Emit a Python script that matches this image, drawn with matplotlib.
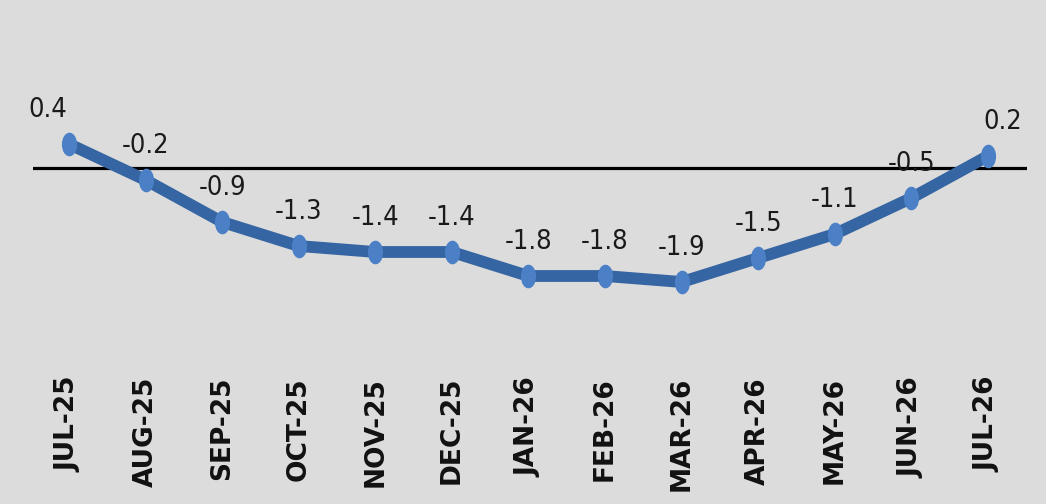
import matplotlib
matplotlib.use("Agg")
import matplotlib.pyplot as plt
from matplotlib.path import Path
import numpy as np

months = ["JUL-25", "AUG-25", "SEP-25", "OCT-25", "NOV-25", "DEC-25", "JAN-26",
          "FEB-26", "MAR-26", "APR-26", "MAY-26", "JUN-26", "JUL-26"]
values = [0.4, -0.2, -0.9, -1.3, -1.4, -1.4, -1.8, -1.8, -1.9, -1.5, -1.1, -0.5, 0.2]
labels = ["0.4", "-0.2", "-0.9", "-1.3", "-1.4", "-1.4", "-1.8", "-1.8", "-1.9",
          "-1.5", "-1.1", "-0.5", "0.2"]

bg = "#dcdcdc"
fig = plt.figure(figsize=(10.46, 5.04), dpi=100, facecolor=bg)
ax = fig.add_axes([33/1046, (504-370)/504, (1027-33)/1046, 370/504])
ax.set_facecolor(bg)

circ = Path.unit_circle()
ell = Path(circ.vertices * np.array([0.62, 1.0]), circ.codes)

x = np.arange(len(months))
ax.axhline(0, color="black", lw=2.3, zorder=1)
ax.plot(x, values, color="#3565a2", lw=8.5, zorder=2, solid_capstyle="round",
        solid_joinstyle="round")
ax.plot(x, values, ls="none", marker=ell, ms=16, mfc="#4b80c6", mec="#4b80c6",
        zorder=3)

offsets = {0: -15, 12: 11}
for i, (v, t) in enumerate(zip(values, labels)):
    ax.annotate(t, (i, v), xytext=(offsets.get(i, 0), 15), textcoords="offset points",
                ha="center", va="bottom", fontsize=19.5, fontstretch="condensed",
                family="DejaVu Sans", color="#1a1a1a", zorder=4)

ax.set_xlim(-0.47, 12.51)
ax.set_ylim(-(370-168)/60, 168/60)
ax.set_xticks(x)
ax.set_xticklabels(months, rotation=90, fontsize=19, fontweight="bold",
                   family="DejaVu Sans", color="#111111")
ax.tick_params(axis="x", length=0, pad=5)
ax.set_yticks([])
for s in ax.spines.values():
    s.set_visible(False)

fig.savefig("out.png", dpi=100, facecolor=bg)
